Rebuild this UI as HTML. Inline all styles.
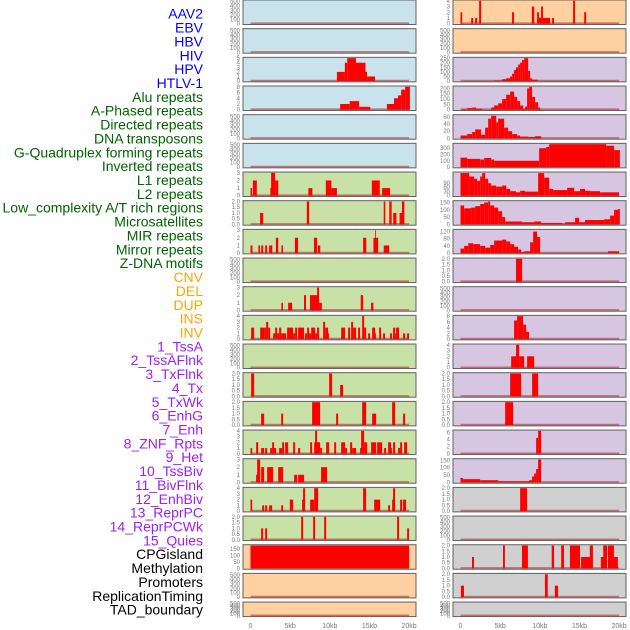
<!DOCTYPE html>
<html><head><meta charset="utf-8"><style>
html,body{margin:0;padding:0;background:#fff;}
svg{display:block;font-family:"Liberation Sans",sans-serif;}
</style></head><body>
<svg id="chart" width="630" height="630" viewBox="0 0 630 630" xmlns="http://www.w3.org/2000/svg"></svg>
<script>
// ---------- data ----------
const trackNames = ["AAV2","EBV","HBV","HIV","HPV","HTLV-1","Alu repeats","A-Phased repeats","Directed repeats","DNA transposons","G-Quadruplex forming repeats","Inverted repeats","L1 repeats","L2 repeats","Low_complexity A/T rich regions","Microsatellites","MIR repeats","Mirror repeats","Z-DNA motifs","CNV","DEL","DUP","INS","INV","1_TssA","2_TssAFlnk","3_TxFlnk","4_Tx","5_TxWk","6_EnhG","7_Enh","8_ZNF_Rpts","9_Het","10_TssBiv","11_BivFlnk","12_EnhBiv","13_ReprPC","14_ReprPCWk","15_Quies","CPGisland","Methylation","Promoters","ReplicationTiming","TAD_boundary"];
const trackGroups = [0,0,0,0,0,0,1,1,1,1,1,1,1,1,1,1,1,1,1,2,2,2,2,2,3,3,3,3,3,3,3,3,3,3,3,3,3,3,3,4,4,4,4,4];
const groupColors = ["#0000ff","#006400","#ffa500","#a020f0","#000000"];
const xTickValues = [0,5,10,15,20];
const xTickLabels = ["0","5kb","10kb","15kb","20kb"];
const emptyTicks = [0,100,200,300,400,500];

// bars: [startKb, endKb, value]
const L2 = [[10.9,11.9,2],[11.9,12.2,4],[12.2,13.3,5],[13.3,14.5,4],[14.5,14.7,2],[14.7,15.7,1]];
const L3 = [[11.3,12.5,2],[12.5,13.7,3],[13.7,15.1,1],[17.2,18.1,2],[18.1,18.6,4],[18.6,19.0,5],[19.0,19.5,7],[19.5,20.1,8]];
const L6 = [[0,0.2,1],[0.3,0.8,2],[2.5,2.7,1],[2.6,3.1,3],[3.1,3.5,2],[7.3,7.8,1],[9.5,10.2,2],[10.2,10.9,1],[15.3,16.3,2],[16.6,17.6,1]];
const L7 = [[1.2,1.6,1],[7.1,7.4,2],[16.8,17.0,2],[17.5,17.8,2],[18.0,18.4,1],[18.8,19.1,1],[19.1,19.4,2]];
const L8 = [[0,0.25,1],[1.0,1.2,1],[1.35,1.6,1],[1.85,2.1,1],[2.35,2.75,1],[3.2,3.5,2],[3.9,4.1,1],[5.6,6.0,2],[8.0,8.4,2],[8.5,8.8,1],[14.2,14.6,2],[15.5,16.1,2],[15.7,15.8,3],[16.8,17.5,1]];
const L10 = [[3.9,4.1,1],[4.75,5.25,1],[6.75,7.0,2],[7.5,8.65,2],[8.4,8.65,3],[8.65,9.0,1],[13.9,14.2,2],[15.2,15.5,1]];
const L11 = [[0.08,0.46,2],[1.22,1.72,2],[1.72,1.97,2],[1.97,2.23,3],[2.23,2.48,2],[2.86,3.11,1],[3.11,3.36,2],[3.36,3.61,1],[3.61,3.87,2],[3.87,4.5,1],[4.62,5.38,2],[5.38,5.63,1],[5.63,5.88,2],[6.0,6.76,2],[6.89,7.14,1],[7.14,7.39,2],[7.39,7.65,1],[7.65,8.15,2],[8.15,8.4,1],[8.4,8.66,2],[9.16,9.41,3],[9.41,9.79,2],[9.79,9.92,1],[11.43,11.93,2],[12.31,12.56,2],[12.69,12.94,3],[12.94,13.32,2],[13.57,13.82,2],[14.08,14.33,4],[14.33,14.58,2],[14.83,15.08,1],[15.34,15.71,2],[15.71,15.84,1],[16.22,16.47,2],[16.72,16.97,1],[17.6,17.86,1],[17.98,18.24,2],[18.24,18.36,1],[18.36,18.74,2],[19.24,19.5,1],[19.75,20.0,1]];
const L13 = [[0.08,0.46,2],[9.92,10.29,2],[11.3,11.68,1]];
const L14 = [[1.34,1.72,1],[3.87,4.12,1],[7.77,8.78,2],[10.8,11.05,1],[14.08,14.58,2],[15.34,15.84,1],[17.86,18.24,2],[19.24,19.5,1]];
const L15 = [[0,0.21,1],[0.71,0.97,2],[1.34,1.72,1],[1.85,2.1,1],[2.48,2.73,1],[2.73,2.98,2],[2.98,3.24,1],[3.61,3.99,1],[3.99,4.24,2],[4.37,4.75,2],[5.38,5.63,2],[6.0,6.26,1],[7.52,7.77,2],[8.03,8.78,2],[8.15,8.4,4],[8.78,9.03,1],[9.54,9.92,2],[10.55,10.8,2],[11.43,11.93,2],[11.93,12.18,1],[12.56,12.82,2],[12.82,13.32,1],[13.82,14.08,1],[13.95,14.33,4],[14.33,14.71,2],[15.21,15.84,2],[15.97,16.6,2],[16.85,17.1,1],[17.35,17.73,2],[17.73,17.86,1],[17.98,18.24,2],[18.61,18.87,1],[18.87,19.12,2],[19.37,19.75,2]];
const L16 = [[0.71,0.97,1],[0.84,1.22,3],[1.34,1.72,2],[2.1,2.86,2],[3.49,4.12,2],[5.5,5.88,1],[6.0,6.76,1],[8.9,9.66,2]];
const L17 = [[0,0.21,2],[1.47,1.72,1],[1.85,2.1,1],[2.35,2.73,1],[3.87,4.12,1],[4.96,5.38,2],[6.51,6.76,2],[6.63,6.89,4],[7.52,8.03,2],[8.03,8.53,4],[14.2,14.58,4],[15.59,16.35,2],[17.35,17.6,1],[17.86,18.11,2],[17.98,18.24,4],[18.87,19.12,2],[19.24,19.62,2]];
const L18 = [[1.34,1.6,1],[1.85,2.1,1],[6.39,6.64,2],[7.9,8.15,2],[9.29,9.54,2],[18.49,18.74,2],[19.75,20.0,1]];
const L19 = [[0,20.0,175]];
const R0 = [[0,0.21,2],[1.35,1.6,1],[1.85,2.1,1],[2.35,2.6,4],[6.5,6.75,2],[9.0,9.3,3],[9.66,9.9,2],[9.9,11.3,1],[10.16,10.4,3],[11.55,11.8,1],[14.2,14.45,4],[15.6,15.85,2]];
const R2 = [[4.24,5.25,5],[5.25,5.76,20],[5.76,6.26,30],[6.26,6.51,50],[6.51,6.76,80],[6.76,7.0,120],[7.0,7.27,150],[7.27,7.52,180],[7.52,7.77,200],[7.77,8.03,230],[8.03,8.53,250],[8.53,8.78,110],[8.78,9.03,30],[9.03,9.66,15],[9.66,9.79,5]];
const R3 = [[0.2,0.7,5],[0.84,1.47,15],[1.47,1.97,20],[1.97,2.73,10],[3.87,4.24,20],[4.24,4.75,40],[4.75,5.25,60],[5.25,5.76,100],[5.76,6.26,140],[6.26,6.76,170],[6.76,7.14,120],[7.14,7.52,80],[7.52,7.9,40],[7.9,8.15,10],[8.15,8.4,30],[8.4,8.66,200],[8.66,9.03,220],[9.03,9.41,120],[9.41,9.79,70],[9.79,10.04,20]];
const R4 = [[0,0.84,8],[0.84,1.47,12],[1.47,1.85,18],[1.85,2.6,25],[2.6,3.11,10],[3.11,3.49,30],[3.49,3.87,55],[3.87,4.5,63],[4.5,4.75,45],[4.75,5.5,55],[5.5,6.0,30],[6.0,6.51,20],[6.51,7.14,12],[7.14,7.52,8],[7.52,8.53,5],[8.53,9.41,4],[9.41,10.17,6]];
const R5 = [[0,0.84,150],[0.84,2.48,130],[2.48,2.98,120],[2.98,3.87,145],[3.87,4.24,120],[4.24,9.92,100],[9.92,10.8,300],[10.8,11.18,320],[11.18,18.36,370],[18.36,19.37,340],[19.37,20.1,270]];
const R6 = [[0,1.09,160],[1.09,1.72,136],[1.72,2.1,120],[2.1,2.48,104],[2.48,2.73,136],[2.73,3.11,160],[3.11,3.49,120],[3.49,3.87,88],[3.87,4.5,72],[4.5,5.25,64],[5.25,5.76,72],[5.76,6.26,48],[6.26,7.0,32],[7.0,7.52,24],[7.52,8.15,35],[8.15,9.79,29],[9.79,10.55,160],[10.55,11.18,128],[11.18,11.68,48],[11.68,13.45,40],[13.45,14.33,56],[14.33,15.08,32],[15.08,15.71,48],[15.71,16.34,35],[16.34,17.6,32],[17.6,20.0,24]];
const R7 = [[0,0.46,130],[0.46,1.34,110],[1.34,1.85,115],[1.85,2.48,125],[2.48,2.98,140],[2.98,3.49,150],[3.49,3.74,158],[3.74,4.24,130],[4.24,4.75,115],[4.75,5.25,90],[5.25,5.63,50],[5.63,7.77,20],[7.77,9.29,15],[9.29,10.17,20],[10.17,12.82,10],[12.82,13.2,5],[13.2,14.45,15],[14.45,14.96,45],[14.96,15.71,15],[15.71,16.97,30],[16.97,18.11,30],[18.11,18.87,35],[18.87,19.37,60],[19.37,19.87,100],[19.87,20.1,105]];
const R8 = [[0,0.46,25],[0.46,0.97,40],[0.97,1.6,55],[1.6,2.48,50],[2.48,3.11,40],[3.11,3.74,30],[3.74,4.24,45],[4.24,5.25,70],[5.25,5.76,75],[5.76,6.26,65],[6.26,6.76,50],[6.76,7.27,35],[7.27,7.65,20],[7.65,8.03,5],[8.03,8.78,10],[8.78,9.16,60],[9.16,9.66,120],[9.66,10.04,90],[18.61,20.0,10]];
const R9 = [[7.0,7.77,2]];
const R11 = [[6.76,7.14,6.5],[7.14,7.9,8],[7.9,8.28,5],[8.28,8.66,2.5]];
const R12 = [[6.39,7.0,2],[7.0,7.4,4],[7.4,8.03,2],[8.4,9.29,2]];
const R13 = [[6.26,7.65,2],[9.03,9.79,2]];
const R14 = [[5.63,6.64,2]];
const R15 = [[9.54,9.79,4.5],[9.79,10.17,6.5]];
const R16 = [[0,0.33,30],[0.33,2.48,22],[2.48,4.75,15],[4.75,8.66,8],[8.66,9.03,15],[9.03,9.29,40],[9.29,9.54,60],[9.54,9.79,90],[9.79,10.17,155]];
const R17 = [[7.52,8.4,2]];
const R19 = [[1.45,1.7,1],[5.36,5.6,2],[7.75,8.5,2],[11.5,11.8,2],[12.7,13.05,2],[13.8,15.07,2],[15.2,16.4,1],[16.3,16.7,2],[17.7,18.1,1],[18.0,18.5,2],[18.6,19.35,2],[19.35,19.85,1]];
const R20 = [[0.05,0.44,1],[10.65,11.0,2],[11.9,12.3,1]];

const T3=[0,1,2,3], T4=[0,1,2,3,4], T2=[0.0,0.5,1.0,1.5,2.0];
// panel specs: col,row,fill,ticks,domainMax,bars
const B="#c8e3eb",G="#c8e1a6",O="#ffd1a0",P="#d6c6e2",Y="#d0d0d0";
const panels = [
 [0,0,B,emptyTicks,520,[]],[0,1,B,emptyTicks,520,[]],[0,2,B,[0,1,2,3,4,5],5,L2],[0,3,B,[0,2,4,6,8],8,L3],
 [0,4,B,emptyTicks,520,[]],[0,5,B,emptyTicks,520,[]],[0,6,G,T3,3,L6],[0,7,G,T2,2,L7],[0,8,G,T3,3,L8],
 [0,9,G,emptyTicks,520,[]],[0,10,G,T3,3,L10],[0,11,G,T4,4,L11],[0,12,G,emptyTicks,520,[]],[0,13,G,T2,2,L13],
 [0,14,G,T2,2,L14],[0,15,G,T4,4,L15],[0,16,G,T3,3,L16],[0,17,G,T4,4,L17],[0,18,G,T2,2,L18],
 [0,19,O,[0,50,100,150],175,L19],[0,20,O,emptyTicks,520,[]],[0,21,O,emptyTicks,520,[]],
 [1,0,O,T4,4,R0],[1,1,O,emptyTicks,520,[]],[1,2,P,[0,50,100,150,200,250],250,R2],[1,3,P,[0,50,100,150,200],215,R3],
 [1,4,P,[0,20,40,60],64,R4],[1,5,P,[0,100,200,300],365,R5],[1,6,P,[0,30,60,90],162,R6],[1,7,P,[0,50,100,150],157,R7],
 [1,8,P,[0,40,80,120],128,R8],[1,9,P,T2,2,R9],[1,10,P,emptyTicks,520,[]],[1,11,P,[0,2,4,6,8],8,R11],
 [1,12,P,T4,4,R12],[1,13,P,T2,2,R13],[1,14,P,T2,2,R14],[1,15,P,[0,2,4,6],6.5,R15],[1,16,P,[0,50,100,150],155,R16],
 [1,17,Y,T2,2,R17],[1,18,Y,emptyTicks,520,[]],[1,19,Y,T2,2,R19],[1,20,Y,T2,2,R20],[1,21,Y,emptyTicks,520,[]]
];

// ---------- drawing ----------
const NS="http://www.w3.org/2000/svg";
const svg=document.getElementById('chart');
function mk(tag,attrs,parent){const e=document.createElementNS(NS,tag);for(const k in attrs)e.setAttribute(k,attrs[k]);(parent||svg).appendChild(e);return e;}
const colX=[243,453], panelW=173, x0Off=7.5, pxPerKb=7.93;
function xScale(col,kb){return colX[col]+x0Off+kb*pxPerKb;}
function rowTop(r){return r*28.67;}
function rowH(r){return r===21?14.5:24.5;}

// labels
trackNames.forEach((n,i)=>{
  const t=mk('text',{x:203,y:15+i*13.86,'text-anchor':'end','dominant-baseline':'middle','font-size':'14',fill:groupColors[trackGroups[i]]});
  
  
  t.textContent=n;
});

panels.forEach((p,idx)=>{
  const [col,row,fill,ticks,D,bars]=p;
  const top=rowTop(row), h=rowH(row);
  const g=mk('g',{});
  
  
  mk('rect',{x:colX[col],y:top,width:panelW,height:h,fill:fill,stroke:'#606060','stroke-width':1},g);
  const y0=top+h-0.8, yT=top+0.8;
  const yScale=v=>y0-(v/D)*(y0-yT);
  // baseline
  const bl=mk('line',{x1:xScale(col,0),x2:xScale(col,20),y1:y0-0.5,y2:y0-0.5,stroke:'#b02020','stroke-width':1.6,'stroke-opacity':0.55},g);
  
  
  bars.forEach(b=>{
    const v=Math.min(b[2],D);
    const r=mk('rect',{x:xScale(col,b[0]),y:yScale(v),width:Math.max(0.8,(b[1]-b[0])*pxPerKb),height:y0-yScale(v),fill:'#ff0000'},g);
    
    
  });
  ticks.forEach(t=>{
    const tx=mk('text',{x:colX[col]-3,y:yScale(t)+2,'text-anchor':'end','font-size':'6',fill:'#777'},g);
    
    
    tx.textContent=(ticks===T2)?t.toFixed(1):String(t);
  });
});

// x axis ticks
[0,1].forEach(col=>{
  xTickValues.forEach((v,i)=>{
    const t=mk('text',{x:xScale(col,v),y:628,'text-anchor':'middle','font-size':'7',fill:'#777'});
    
    
    t.textContent=xTickLabels[i];
  });
});
</script>
</body></html>
